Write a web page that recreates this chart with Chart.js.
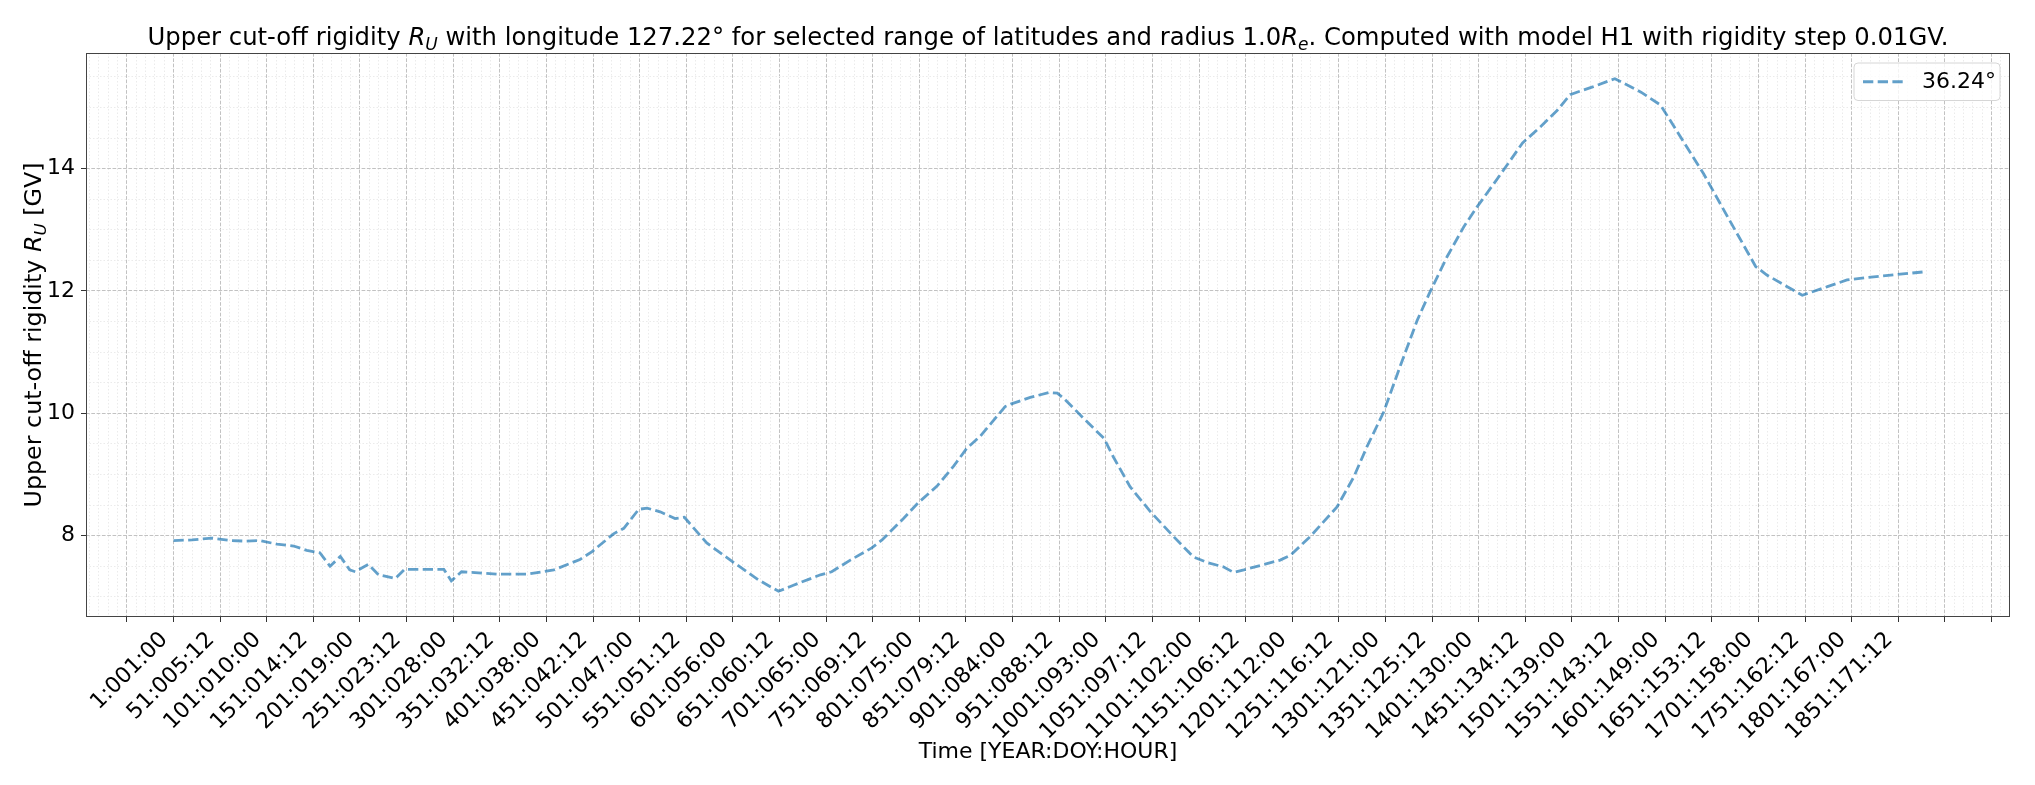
<!DOCTYPE html>
<html>
<head>
<meta charset="utf-8">
<title>Upper cut-off rigidity</title>
<script src="https://cdn.jsdelivr.net/npm/chart.js@4.4.1/dist/chart.umd.min.js"></script>
<style>
  html, body { margin: 0; padding: 0; background: #fff; }
  #chart { display: block; }
</style>
</head>
<body>
<canvas id="chart" width="2035" height="785"></canvas>
<script>
// labels of every 50th sample (N:DOY:HOUR)
var tickLabels = ["1:001:00", "51:005:12", "101:010:00", "151:014:12", "201:019:00", "251:023:12",
  "301:028:00", "351:032:12", "401:038:00", "451:042:12", "501:047:00", "551:051:12", "601:056:00",
  "651:060:12", "701:065:00", "751:069:12", "801:075:00", "851:079:12", "901:084:00", "951:088:12",
  "1001:093:00", "1051:097:12", "1101:102:00", "1151:106:12", "1201:112:00", "1251:116:12",
  "1301:121:00", "1351:125:12", "1401:130:00", "1451:134:12", "1501:139:00", "1551:143:12",
  "1601:149:00", "1651:153:12", "1701:158:00", "1751:162:12", "1801:167:00", "1851:171:12"];

// sample index and upper cut-off rigidity [GV]
var sampleIdx = [0, 20, 41, 62, 78, 93, 111, 129, 143, 157, 168, 179, 189, 195, 209, 220, 238, 248,
  290, 298, 309, 347, 379, 408, 436, 449, 472, 483, 499, 508, 522, 538, 548, 572, 601, 627, 649,
  665, 694, 706, 726, 749, 760, 783, 799, 819, 837, 851, 865, 892, 898, 919, 939, 948, 956, 976,
  998, 1008, 1026, 1048, 1073, 1094, 1109, 1126, 1137, 1148, 1187, 1198, 1219, 1248, 1266, 1280,
  1298, 1316, 1334, 1347, 1366, 1384, 1398, 1416, 1430, 1447, 1466, 1484, 1498, 1523, 1546, 1574,
  1595, 1613, 1641, 1667, 1697, 1709, 1747, 1774, 1795, 1817, 1876];
var rigidity = [7.92, 7.93, 7.96, 7.92, 7.91, 7.92, 7.86, 7.83, 7.76, 7.72, 7.50, 7.66, 7.44, 7.41,
  7.53, 7.36, 7.30, 7.45, 7.45, 7.26, 7.41, 7.37, 7.37, 7.44, 7.61, 7.74, 8.03, 8.12, 8.43, 8.45,
  8.39, 8.28, 8.30, 7.88, 7.56, 7.28, 7.09, 7.19, 7.36, 7.41, 7.60, 7.80, 7.93, 8.28, 8.54, 8.81,
  9.14, 9.43, 9.62, 10.11, 10.15, 10.26, 10.34, 10.33, 10.23, 9.92, 9.59, 9.29, 8.80, 8.39, 7.98,
  7.65, 7.56, 7.49, 7.40, 7.44, 7.60, 7.68, 7.98, 8.47, 8.96, 9.45, 10.02, 10.78, 11.52, 11.96,
  12.56, 13.05, 13.37, 13.75, 14.05, 14.42, 14.68, 14.95, 15.21, 15.34, 15.47, 15.25, 15.04, 14.60,
  13.92, 13.21, 12.40, 12.26, 11.93, 12.07, 12.18, 12.22, 12.31];
var seriesLabel = "36.24°";

var xMin = -93.8, xMax = 1969.8;
var yMin = 6.67, yMax = 15.89;

var lineColor = "rgba(31,119,180,0.7)";
var majorGrid = "#c2c2c2";
var minorGrid = "#ebebeb";
var fontName = "'DejaVu Sans', sans-serif";

Chart.defaults.font.family = fontName;
Chart.defaults.font.size = 22;
Chart.defaults.color = "#000";

var points = [];
for (var i = 0; i < sampleIdx.length; i++) {
  points.push({ x: sampleIdx[i], y: rigidity[i] });
}

function isMajor(v, step) {
  return Math.abs(v / step - Math.round(v / step)) < 1e-6;
}

function partFont(p, size) {
  return (p.italic ? "italic " : "") + (p.sub ? size * 0.7 : size) + "px " + fontName;
}

// draws text with italic / subscript pieces, centred on x, y is the baseline
function drawRich(ctx, parts, x, y, size) {
  var w = 0;
  parts.forEach(function (p) { ctx.font = partFont(p, size); w += ctx.measureText(p.t).width; });
  var cx = x - w / 2;
  ctx.textAlign = "left";
  ctx.textBaseline = "alphabetic";
  parts.forEach(function (p) {
    ctx.font = partFont(p, size);
    ctx.fillText(p.t, cx, y + (p.sub ? size * 0.2 : 0));
    cx += ctx.measureText(p.t).width;
  });
}

var titleParts = [
  { t: "Upper cut-off rigidity " }, { t: "R", italic: true }, { t: "U", italic: true, sub: true },
  { t: " with longitude 127.22° for selected range of latitudes and radius 1.0" },
  { t: "R", italic: true }, { t: "e", italic: true, sub: true },
  { t: ". Computed with model H1 with rigidity step 0.01GV." }
];
var yTitleParts = [
  { t: "Upper cut-off rigidity " }, { t: "R", italic: true }, { t: "U", italic: true, sub: true },
  { t: " [GV]" }
];

var textPlugin = {
  id: "texts",
  afterDraw: function (chart) {
    var ctx = chart.ctx, ca = chart.chartArea;
    ctx.save();
    ctx.fillStyle = "#000";
    drawRich(ctx, titleParts, (ca.left + ca.right) / 2, 45, 24.3);
    ctx.translate(41, (ca.top + ca.bottom) / 2);
    ctx.rotate(-Math.PI / 2);
    drawRich(ctx, yTitleParts, 0, 0, 23.8);
    ctx.restore();
  }
};

var framePlugin = {
  id: "frame",
  afterDatasetsDraw: function (chart) {
    var ctx = chart.ctx, ca = chart.chartArea;
    ctx.save();
    ctx.strokeStyle = "#444";
    ctx.lineWidth = 1;
    ctx.strokeRect(Math.round(ca.left) + 0.5, Math.round(ca.top) + 0.5,
      Math.round(ca.right - ca.left) - 1, Math.round(ca.bottom - ca.top) - 1);
    ctx.restore();
  }
};

var legendPlugin = {
  id: "legendBox",
  afterDraw: function (chart) {
    var ctx = chart.ctx, ca = chart.chartArea;
    var ds = chart.data.datasets[0];
    var w = 146, h = 37.5, r = 4;
    var x = ca.right - 10 - w, y = ca.top + 10;
    ctx.save();
    ctx.beginPath();
    ctx.moveTo(x + r, y);
    ctx.lineTo(x + w - r, y);
    ctx.arcTo(x + w, y, x + w, y + r, r);
    ctx.lineTo(x + w, y + h - r);
    ctx.arcTo(x + w, y + h, x + w - r, y + h, r);
    ctx.lineTo(x + r, y + h);
    ctx.arcTo(x, y + h, x, y + h - r, r);
    ctx.lineTo(x, y + r);
    ctx.arcTo(x, y, x + r, y, r);
    ctx.closePath();
    ctx.fillStyle = "rgba(255,255,255,0.8)";
    ctx.fill();
    ctx.strokeStyle = "#d6d6d6";
    ctx.lineWidth = 1;
    ctx.stroke();
    ctx.beginPath();
    ctx.setLineDash(ds.borderDash);
    ctx.strokeStyle = ds.borderColor;
    ctx.lineWidth = ds.borderWidth;
    ctx.moveTo(x + 9, y + h / 2);
    ctx.lineTo(x + 49, y + h / 2);
    ctx.stroke();
    ctx.setLineDash([]);
    ctx.fillStyle = "#000";
    ctx.font = "22px " + fontName;
    ctx.textBaseline = "middle";
    ctx.textAlign = "left";
    ctx.fillText(ds.label, x + 68, y + h / 2 + 1);
    ctx.restore();
  }
};

new Chart(document.getElementById("chart"), {
  type: "line",
  data: {
    datasets: [{
      label: seriesLabel,
      data: points,
      borderColor: lineColor,
      backgroundColor: lineColor,
      borderWidth: 2.8,
      borderDash: [10.3, 4.4],
      borderCapStyle: "butt",
      pointRadius: 0,
      pointHoverRadius: 0,
      fill: false,
      tension: 0
    }]
  },
  options: {
    responsive: false,
    animation: false,
    events: [],
    layout: { padding: { top: 53, right: 25, left: 0, bottom: 0 } },
    plugins: {
      legend: { display: false },
      title: { display: false },
      tooltip: { enabled: false }
    },
    scales: {
      x: {
        type: "linear",
        min: xMin,
        max: xMax,
        afterFit: function (s) { s.height = 168; },
        ticks: {
          stepSize: 10,
          autoSkip: false,
          includeBounds: false,
          minRotation: 45,
          maxRotation: 45,
          padding: 5,
          labelOffset: -9,
          color: "#000",
          callback: function (v) {
            if (v >= 0 && isMajor(v, 50) && Math.round(v / 50) < tickLabels.length) {
              return tickLabels[Math.round(v / 50)];
            }
            return "";
          }
        },
        grid: {
          color: function (c) { return c.tick && isMajor(c.tick.value, 50) ? majorGrid : minorGrid; },
          lineWidth: 1,
          tickLength: 5,
          tickColor: function (c) { return c.tick && isMajor(c.tick.value, 50) ? "#333" : "rgba(0,0,0,0)"; }
        },
        border: {
          display: false,
          dash: function (c) { return c.tick && isMajor(c.tick.value, 50) ? [3.7, 1.6] : [1.5, 2]; }
        },
        title: {
          display: true,
          text: "Time [YEAR:DOY:HOUR]",
          color: "#000",
          padding: { top: 0, bottom: 20 }
        }
      },
      y: {
        type: "linear",
        min: yMin,
        max: yMax,
        afterFit: function (s) { s.width = 86; },
        ticks: {
          stepSize: 0.5,
          autoSkip: false,
          includeBounds: false,
          padding: 6,
          color: "#000",
          callback: function (v) { return isMajor(v, 2) ? String(v) : ""; }
        },
        grid: {
          color: function (c) { return c.tick && isMajor(c.tick.value, 2) ? majorGrid : minorGrid; },
          lineWidth: 1,
          tickLength: 5,
          tickColor: function (c) { return c.tick && isMajor(c.tick.value, 2) ? "#333" : "rgba(0,0,0,0)"; }
        },
        border: {
          display: false,
          dash: function (c) { return c.tick && isMajor(c.tick.value, 2) ? [3.7, 1.6] : [1.5, 2]; }
        }
      }
    }
  },
  plugins: [framePlugin, textPlugin, legendPlugin]
});
</script>
</body>
</html>
